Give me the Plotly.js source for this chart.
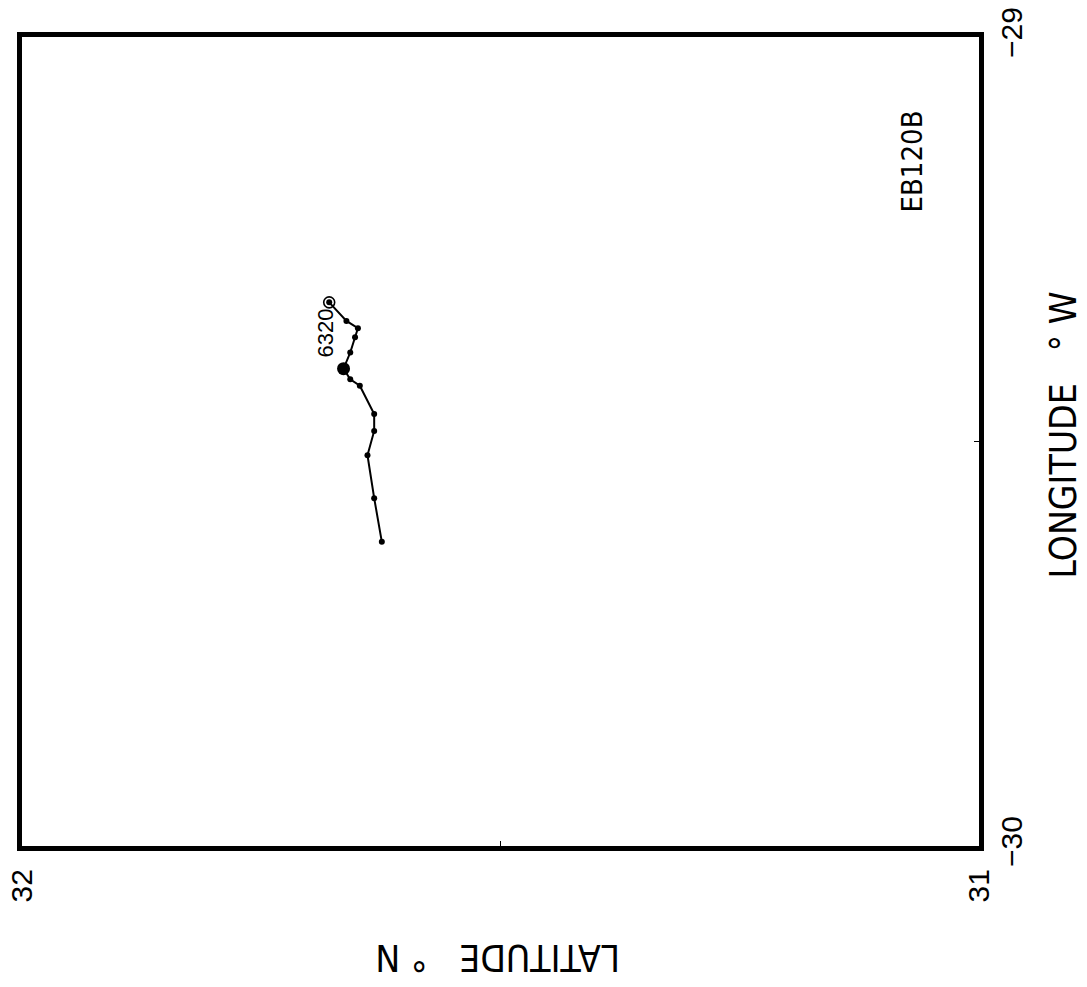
<!DOCTYPE html>
<html>
<head>
<meta charset="utf-8">
<script src="https://cdn.plot.ly/plotly-3.0.1.min.js"></script>
<style>
  html, body { margin: 0; padding: 0; background: #fff; }
  #plot { width: 1087px; height: 987px; }
</style>
</head>
<body>
<div id="plot"></div>
<script>
// Drifter track EB120B: positions in degrees (latitude N, longitude)
const lat = [31.679, 31.661, 31.649, 31.652, 31.657, 31.664, 31.657, 31.647,
             31.632, 31.632, 31.639, 31.632, 31.624];
const lon = [-29.328, -29.351, -29.360, -29.371, -29.390, -29.410, -29.423, -29.431,
             -29.466, -29.487, -29.517, -29.570, -29.624];

const latTicks = [31, 31.5, 32];
const latTickText = ['31', '', '32'];
const lonTicks = [-30, -29.5, -29];
const lonTickText = ['\u221230', '', '\u221229'];

const startLabel = '6320';
const trackName = 'EB120B';
const markIndex = 5;   // highlighted fix along the track

const plain = 'Liberation Sans, Arial, sans-serif';
const narrow = 'DejaVu Sans Condensed, Liberation Sans, sans-serif';

const traces = [
  {
    x: lat, y: lon, type: 'scatter', mode: 'lines+markers',
    line: { color: '#000', width: 2 },
    marker: { color: '#000', size: 6 },
    hoverinfo: 'skip'
  },
  {
    x: [lat[0]], y: [lon[0]], type: 'scatter', mode: 'markers',
    marker: { symbol: 'circle-open-dot', color: '#000', size: 11, line: { width: 1.6, color: '#000' } },
    hoverinfo: 'skip'
  },
  {
    x: [lat[markIndex]], y: [lon[markIndex]], type: 'scatter', mode: 'markers',
    marker: { color: '#000', size: 13 },
    hoverinfo: 'skip'
  }
];

const axisCommon = {
  showgrid: false, zeroline: false,
  showline: true, linecolor: '#000', linewidth: 5, mirror: true,
  ticks: 'inside', ticklen: 5, tickwidth: 1.5, tickcolor: '#000',
  tickangle: -90, tickmode: 'array', fixedrange: true,
  tickfont: { family: plain, size: 30, color: '#000' },
  automargin: false
};

const layout = {
  width: 1087, height: 987,
  margin: { l: 22, r: 108, t: 37, b: 141 },
  paper_bgcolor: '#fff', plot_bgcolor: '#fff',
  showlegend: false,
  xaxis: Object.assign({}, axisCommon, {
    range: [32, 31], side: 'bottom',
    tickvals: latTicks, ticktext: latTickText,
    ticklabelstandoff: 6
  }),
  yaxis: Object.assign({}, axisCommon, {
    range: [-30, -29], side: 'right',
    tickvals: lonTicks, ticktext: lonTickText,
    ticklabelstandoff: 2
  }),
  annotations: [
    {
      x: lat[0], y: lon[0], xref: 'x', yref: 'y', showarrow: false,
      xanchor: 'center', yanchor: 'middle',
      text: startLabel, textangle: -90, xshift: -4, yshift: -31,
      font: { family: plain, size: 22, color: '#000' }
    },
    {
      x: 0.9305, y: 0.8467, xref: 'paper', yref: 'paper', showarrow: false,
      xanchor: 'center', yanchor: 'middle',
      text: trackName, textangle: -90,
      font: { family: narrow, size: 29, color: '#000' }
    },
    {
      x: 1.0883, y: 0.508, xref: 'paper', yref: 'paper', showarrow: false,
      xanchor: 'center', yanchor: 'middle',
      text: 'LONGITUDE\u00A0\u00A0\u00A0°\u00A0W', textangle: -90,
      font: { family: narrow, size: 37, color: '#000' }
    },
    {
      x: 0.4974, y: -0.1372, xref: 'paper', yref: 'paper', showarrow: false,
      xanchor: 'center', yanchor: 'middle',
      text: 'LATITUDE\u00A0\u00A0\u00A0°\u00A0N', textangle: 180,
      font: { family: narrow, size: 37, color: '#000' }
    }
  ]
};

Plotly.newPlot('plot', traces, layout, { staticPlot: true, displayModeBar: false });
</script>
</body>
</html>
